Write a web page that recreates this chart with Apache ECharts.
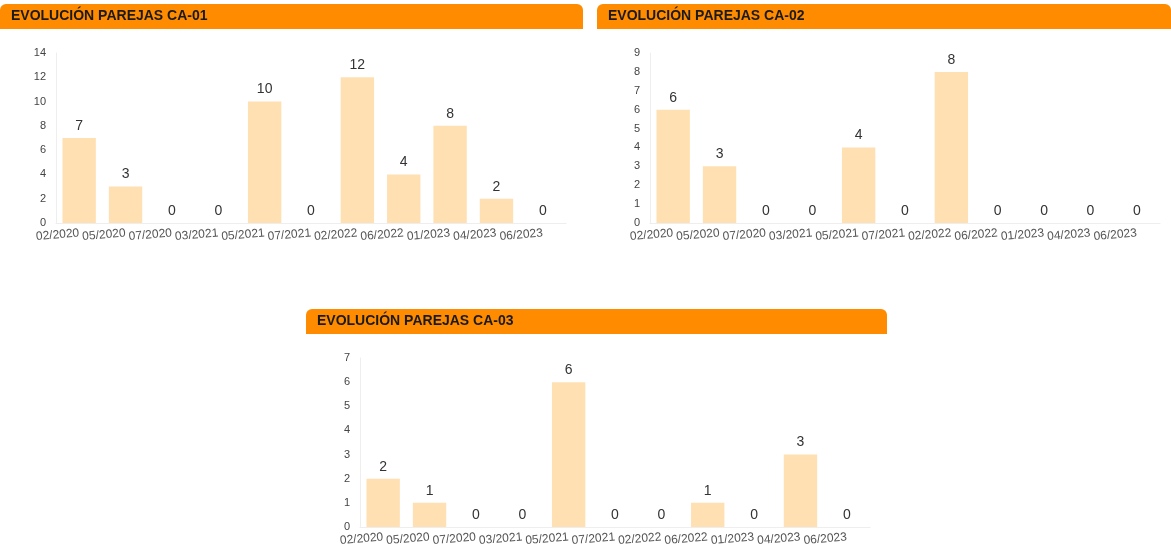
<!DOCTYPE html>
<html>
<head>
<meta charset="utf-8">
<script src="https://cdn.jsdelivr.net/npm/echarts@6/dist/echarts.min.js"></script>
<style>
  html, body { margin: 0; padding: 0; background: #fff; }
  #main { width: 1171px; height: 551px; }
</style>
</head>
<body>
<div id="main"></div>
<script>
var fechas = ['02/2020', '05/2020', '07/2020', '03/2021', '05/2021', '07/2021', '02/2022', '06/2022', '01/2023', '04/2023', '06/2023'];
var titulos = ['EVOLUCIÓN PAREJAS CA-01', 'EVOLUCIÓN PAREJAS CA-02', 'EVOLUCIÓN PAREJAS CA-03'];
var parejasCA01 = [7, 3, 0, 0, 10, 0, 12, 4, 8, 2, 0];
var parejasCA02 = [6, 3, 0, 0, 4, 0, 8, 0, 0, 0, 0];
var parejasCA03 = [2, 1, 0, 0, 6, 0, 0, 1, 0, 3, 0];
var ejeMax = [14, 9, 7];
var ejePaso = [2, 1, 1];

var chart = echarts.init(document.getElementById('main'));

// cabeceras naranjas (x, y, ancho)
var cabeceras = [[0, 4, 583], [597, 4, 574], [306, 309, 581]];
// rejillas de cada grafico
var rejillas = [
  { left: 56, top: 53, width: 510, height: 170 },
  { left: 650, top: 53, width: 510, height: 170 },
  { left: 360, top: 358, width: 510, height: 169 }
];
var datos = [parejasCA01, parejasCA02, parejasCA03];

var graficos = [];
cabeceras.forEach(function(c, i) {
  graficos.push({
    type: 'rect',
    shape: { x: c[0], y: c[1], width: c[2], height: 25, r: [6, 6, 0, 0] },
    style: { fill: '#FF8C00' },
    silent: true
  });
  graficos.push({
    type: 'text',
    x: c[0] + 11, y: c[1] + 12.5,
    style: {
      text: titulos[i],
      fill: '#1a1a1a',
      font: 'bold 14px "Liberation Sans", Arial, sans-serif',
      verticalAlign: 'middle'
    },
    silent: true
  });
});

var option = {
  animation: false,
  grid: rejillas,
  graphic: graficos,
  xAxis: rejillas.map(function(g, i) {
    return {
      type: 'category',
      gridIndex: i,
      data: fechas,
      axisLine: { lineStyle: { color: '#eeeeee', width: 1 } },
      axisTick: { show: false },
      axisLabel: {
        interval: 0,
        rotate: 5,
        margin: 10,
        color: '#555',
        fontSize: 12,
        fontFamily: '"Liberation Sans", Arial, sans-serif'
      }
    };
  }),
  yAxis: rejillas.map(function(g, i) {
    return {
      type: 'value',
      gridIndex: i,
      min: 0,
      max: ejeMax[i],
      interval: ejePaso[i],
      axisLine: { show: true, lineStyle: { color: '#eeeeee', width: 1 } },
      axisTick: { show: false },
      splitLine: { show: false },
      axisLabel: {
        margin: 10,
        color: '#444',
        fontSize: 11,
        fontFamily: '"Liberation Sans", Arial, sans-serif'
      }
    };
  }),
  series: datos.map(function(d, i) {
    return {
      type: 'bar',
      xAxisIndex: i,
      yAxisIndex: i,
      data: d,
      barWidth: '72%',
      itemStyle: { color: '#FFE0B2' },
      label: {
        show: true,
        position: 'top',
        distance: 5,
        color: '#333',
        fontSize: 14,
        fontFamily: '"Liberation Sans", Arial, sans-serif'
      }
    };
  })
};

chart.setOption(option);
</script>
</body>
</html>
